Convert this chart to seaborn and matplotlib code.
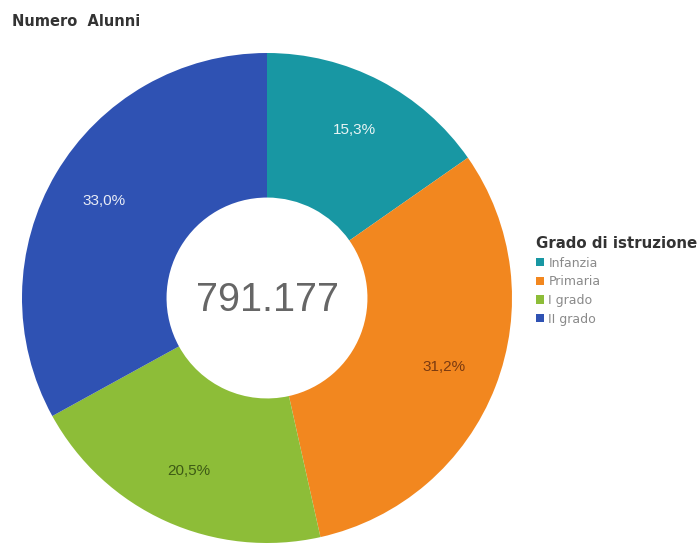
import matplotlib
matplotlib.use("Agg")
import matplotlib.pyplot as plt
import seaborn as sns
from matplotlib.patches import Patch

sns.set_theme(style="white")
plt.rcParams['font.family'] = ['Liberation Sans', 'DejaVu Sans']

categories = ["Infanzia", "Primaria", "I grado", "II grado"]
shares = [15.3, 31.2, 20.5, 33.0]
colors = ["#1897a3", "#f2871f", "#8dbd38", "#2f52b3"]
label_colors = ["#e8f4f4", "#7a3a10", "#3d5a15", "#e8ecf6"]
total_label = "791.177"

fig = plt.figure(figsize=(6.97, 5.44), dpi=100)
ax = fig.add_axes([22 / 697, 1 / 544, 490 / 697, 490 / 544])

wedges, texts, autotexts = ax.pie(
    shares,
    colors=colors,
    startangle=90,
    counterclock=False,
    radius=1.0,
    pctdistance=0.775,
    autopct=lambda p: f"{p:.1f}%".replace(".", ","),
    wedgeprops=dict(width=0.59, edgecolor="none"),
    textprops=dict(fontsize=11),
)
for t, c in zip(autotexts, label_colors):
    t.set_color(c)

ax.text(0, -0.01, total_label, ha="center", va="center", fontsize=28.5, color="#666666")
ax.set_xlim(-1, 1)
ax.set_ylim(-1, 1)
ax.set_aspect("equal")
ax.axis("off")

fig.text(12 / 697, 1 - 21 / 544, "Numero  Alunni", fontsize=10.5, fontweight="bold",
         family="DejaVu Sans", color="#333333", va="center", ha="left")

handles = [Patch(facecolor=c, edgecolor="none", label=l) for c, l in zip(colors, categories)]
leg = fig.legend(
    handles=handles,
    loc="upper left",
    bbox_to_anchor=(536 / 697, 1 - 236 / 544),
    frameon=False,
    title="Grado di istruzione",
    title_fontproperties=dict(weight="bold", size=10.8, family="DejaVu Sans"),
    prop=dict(size=9, family="DejaVu Sans"),
    handlelength=0.65,
    handleheight=0.65,
    handletextpad=0.35,
    labelspacing=0.45,
    borderaxespad=0,
    borderpad=0,
)
leg._legend_box.align = "left"
leg.get_title().set_color("#333333")
for t in leg.get_texts():
    t.set_color("#8a8a8a")

fig.savefig("out.png", dpi=100, facecolor="white")
